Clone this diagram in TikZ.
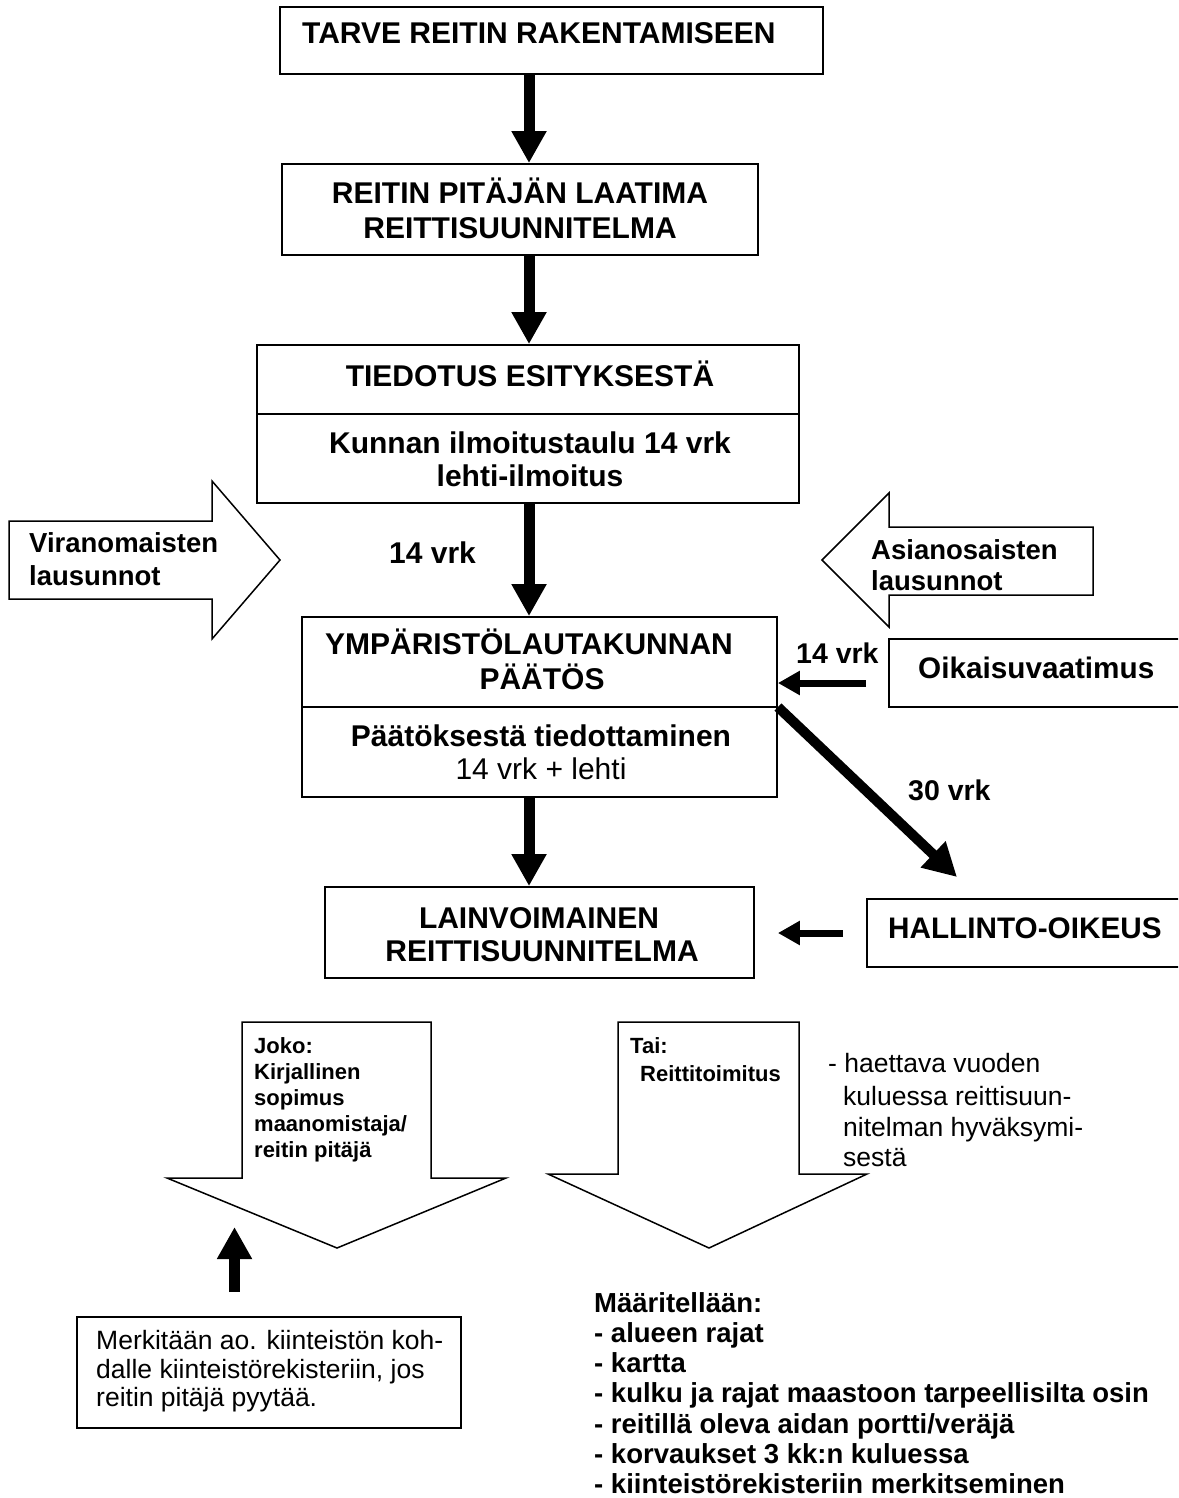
\documentclass[tikz,border=0pt]{standalone}
\usepackage{fontspec}
\setmainfont{Liberation Sans}
\usetikzlibrary{arrows.meta,calc}
\begin{document}
\begin{tikzpicture}[x=1pt,y=-1pt,
  box/.style={draw,line width=1.8pt,inner sep=0pt},
  ttl/.style={font=\fontsize{30}{35}\selectfont\bfseries,inner sep=0pt},
  ttr/.style={font=\fontsize{30}{35}\selectfont,inner sep=0pt},
  lbl/.style={font=\fontsize{28.5}{33}\selectfont\bfseries,inner sep=0pt},
  blbl/.style={font=\fontsize{29.7}{34}\selectfont\bfseries,inner sep=0pt},
  sidel/.style={font=\fontsize{27.5}{32}\selectfont\bfseries,inner sep=0pt},
  sml/.style={font=\fontsize{22}{26}\selectfont\bfseries,inner sep=0pt},
  reg/.style={font=\fontsize{26.5}{31}\selectfont,inner sep=0pt},
  lst/.style={font=\fontsize{27.5}{30}\selectfont\bfseries,inner sep=0pt},
  hollow/.style={draw,line width=1.5pt,line join=miter,fill=white},
  fat/.style={line width=11pt,-{Triangle[length=32pt,width=33pt]}},
  thinarr/.style={line width=7pt,-{Triangle[length=22pt,width=23pt]}},
  diagarr/.style={line width=10pt,-{Triangle[length=33pt,width=34pt]}}
]
\useasboundingbox (0,0) rectangle (1178,1498);
\clip (0,0) rectangle (1178,1498);
\fill[white] (0,0) rectangle (1178,1498);

% ---------- boxes ----------
\node[box,minimum width=543pt,minimum height=67pt] (b1) at (551.5,40.5) {};
\node[ttl,anchor=base west] (t1) at (302,44) {TARVE REITIN RAKENTAMISEEN};

\node[box,minimum width=476pt,minimum height=91pt] (b2) at (520,209.5) {};
\node[ttl,anchor=base] (t2a) at (520,204) {REITIN PITÄJÄN LAATIMA};
\node[ttl,anchor=base] (t2b) at (520,238) {REITTISUUNNITELMA};

\node[box,minimum width=542pt,minimum height=158pt] (b3) at (528,424) {};
\coordinate (d3) at (0,414);
\draw[line width=1.8pt] (b3.west |- d3) -- (b3.east |- d3);
\node[ttl,anchor=base] (t3a) at (530,386.5) {TIEDOTUS ESITYKSESTÄ};
\node[ttl,anchor=base] (t3b) at (530,453) {Kunnan ilmoitustaulu 14 vrk};
\node[ttl,anchor=base] (t3c) at (530,486) {lehti-ilmoitus};

\node[box,minimum width=475pt,minimum height=180pt] (b4) at (539.5,707) {};
\draw[line width=1.8pt] (b4.west) -- (b4.east);
\node[ttl,anchor=base] (t4a) at (529,654) {YMPÄRISTÖLAUTAKUNNAN};
\node[ttl,anchor=base] (t4b) at (542,689) {PÄÄTÖS};
\node[ttl,anchor=base] (t4c) at (541,746) {Päätöksestä tiedottaminen};
\node[ttr,anchor=base] (t4d) at (541,779) {14 vrk + lehti};

\node[box,minimum width=429pt,minimum height=91pt] (b5) at (539.5,932.5) {};
\node[ttl,anchor=base] (t5a) at (539,928) {LAINVOIMAINEN};
\node[ttl,anchor=base] (t5b) at (542,961) {REITTISUUNNITELMA};

\node[box,minimum width=311pt,minimum height=68pt] (oik) at (1044.5,673) {};
\node[blbl,anchor=base west] (toik) at (918,678.5) {Oikaisuvaatimus};

\node[box,minimum width=333pt,minimum height=68pt] (hal) at (1033.5,933) {};
\node[blbl,anchor=base west] (thal) at (888,938.5) {HALLINTO-OIKEUS};

\node[box,minimum width=384pt,minimum height=111pt] (merk) at (269,1372.5) {};
\node[reg,anchor=base west] (m1) at (96,1349) {Merkitään ao. kiinteistön koh-};
\node[reg,anchor=base west] (m2) at (96,1378) {dalle kiinteistörekisteriin, jos};
\node[reg,anchor=base west] (m3) at (96,1406) {reitin pitäjä pyytää.};

% ---------- hollow arrows ----------
\draw[hollow] (9,521) -- (212,521) -- (212,481) -- (280,560) -- (212,639) -- (212,599) -- (9,599) -- cycle;
\node[sidel,anchor=base west] (vi1) at (29,552) {Viranomaisten};
\node[sidel,anchor=base west] (vi2) at (29,585) {lausunnot};

\draw[hollow] (1093,527) -- (889,527) -- (889,493) -- (822,560) -- (889,627) -- (889,595) -- (1093,595) -- cycle;
\node[sidel,anchor=base west] (as1) at (871,559) {Asianosaisten};
\node[sidel,anchor=base west] (as2) at (871,590) {lausunnot};

\draw[hollow] (242,1022) -- (431,1022) -- (431,1178) -- (506,1178) -- (337,1248) -- (167,1178) -- (242,1178) -- cycle;
\node[sml,anchor=base west] (j1) at (254,1053) {Joko:};
\node[sml,anchor=base west] (j2) at (254,1079) {Kirjallinen};
\node[sml,anchor=base west] (j3) at (254,1105) {sopimus};
\node[sml,anchor=base west] (j4) at (254,1131) {maanomistaja/};
\node[sml,anchor=base west] (j5) at (254,1157) {reitin pitäjä};

\draw[hollow] (618,1022) -- (799,1022) -- (799,1174) -- (867,1174) -- (709,1248) -- (548,1174) -- (618,1174) -- cycle;
\node[sml,anchor=base west] (ta1) at (630,1053) {Tai:};
\node[sml,anchor=base west] (ta2) at (640,1081) {Reittitoimitus};

\node[reg,anchor=base west] (h1) at (828,1072) {- haettava vuoden};
\node[reg,anchor=base west] (h2) at (843,1105) {kuluessa reittisuun-};
\node[reg,anchor=base west] (h3) at (843,1136) {nitelman hyväksymi-};
\node[reg,anchor=base west] (h4) at (843,1166) {sestä};

% ---------- list ----------
\node[lst,anchor=base west] (l0) at (594,1312) {Määritellään:};
\node[lst,anchor=base west] (l1) at (594,1342) {- alueen rajat};
\node[lst,anchor=base west] (l2) at (594,1372) {- kartta};
\node[lst,anchor=base west] (l3) at (594,1402) {- kulku ja rajat maastoon tarpeellisilta osin};
\node[lst,anchor=base west] (l4) at (594,1433) {- reitillä oleva aidan portti/veräjä};
\node[lst,anchor=base west] (l5) at (594,1463) {- korvaukset 3 kk:n kuluessa};
\node[lst,anchor=base west] (l6) at (594,1493) {- kiinteistörekisteriin merkitseminen};

% ---------- labels ----------
\node[ttl,anchor=base west] (v14a) at (389,563.5) {14 vrk};
\node[lbl,anchor=base west] (v14b) at (796,663) {14 vrk};
\node[lbl,anchor=base west] (v30) at (908,800) {30 vrk};

% ---------- connectors ----------
\coordinate (ax) at (529,0);
\draw[fat] (b1.south -| ax) -- (b2.north -| ax);
\draw[fat] (b2.south -| ax) -- (b3.north -| ax);
\draw[fat] (b3.south -| ax) -- (b4.north -| ax);
\draw[fat] (b4.south -| ax) -- (b5.north -| ax);

\coordinate (os) at ([shift={(-22,10)}]oik.west);
\draw[thinarr] (os) -- (b4.east |- os);

\coordinate (hs) at ([xshift=-23pt]hal.west);
\coordinate (he) at ([xshift=23pt]b5.east);
\draw[thinarr] (hs) -- (he |- hs);

\coordinate (dend) at (957,877);
\draw[diagarr] (b4.east) -- (dend);

\coordinate (ux) at (234.5,0);
\coordinate (utip) at (234.5,1227);
\path (merk.north -| ux) ++(0,-24) coordinate (ubase);
\draw[fat] (ubase) -- (utip);
\end{tikzpicture}
\end{document}
